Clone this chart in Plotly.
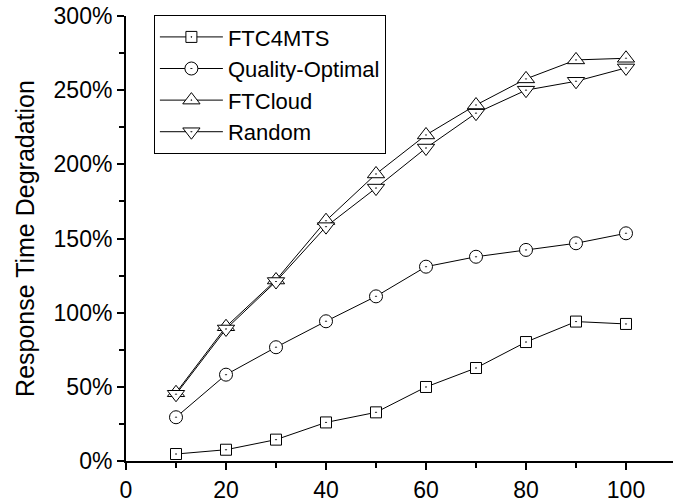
import plotly.graph_objects as go

# Data
x_vals = [10, 20, 30, 40, 50, 60, 70, 80, 90, 100]
ftc4mts = [4.7, 7.6, 14.4, 26.0, 32.8, 49.9, 62.7, 80.2, 94.0, 92.4]
quality_optimal = [29.5, 58.2, 76.7, 94.2, 111.0, 131.0, 137.7, 142.3, 146.8, 153.5]
ftcloud = [46.0, 90.5, 122.0, 162.0, 193.5, 219.8, 240.0, 257.6, 270.4, 271.5]
random_sel = [45.0, 89.0, 121.0, 158.0, 184.0, 211.0, 234.5, 250.0, 256.0, 265.0]

y_ticks = [0, 50, 100, 150, 200, 250, 300]
y_tick_labels = ["0%", "50%", "100%", "150%", "200%", "250%", "300%"]

series = [
    ("FTC4MTS", ftc4mts, "square-dot", 11),
    ("Quality-Optimal", quality_optimal, "circle-dot", 13),
    ("FTCloud", ftcloud, "triangle-up-dot", 15),
    ("Random", random_sel, "triangle-down-dot", 15),
]

fig = go.Figure()

for name, vals, symbol, size in series:
    fig.add_trace(go.Scatter(
        x=x_vals,
        y=vals,
        mode="lines+markers",
        name=name,
        line=dict(color="black", width=1),
        marker=dict(symbol=symbol, size=size, color="white",
                    line=dict(color="black", width=1)),
    ))

fig.update_layout(
    width=673,
    height=502,
    margin=dict(l=126, r=0, t=16, b=41),
    paper_bgcolor="white",
    plot_bgcolor="white",
    font=dict(family="Liberation Sans, Arial, sans-serif", size=23, color="black"),
    showlegend=True,
    legend=dict(
        x=0.051, y=1.002, xanchor="left", yanchor="top",
        bordercolor="black", borderwidth=1, bgcolor="white",
        font=dict(size=22), itemwidth=63, tracegroupgap=0,
    ),
)

fig.update_xaxes(
    range=[0, 109.4],
    tickvals=[0, 20, 40, 60, 80, 100],
    ticks="outside", ticklen=7, tickwidth=1.5, tickcolor="black",
    minor=dict(tickvals=[10, 30, 50, 70, 90], ticks="outside", ticklen=5, tickcolor="black"),
    showline=True, linecolor="black", linewidth=2,
    showgrid=False, zeroline=False, automargin=False,
)

fig.update_yaxes(
    range=[0, 300],
    tickvals=y_ticks,
    ticktext=y_tick_labels,
    ticks="outside", ticklen=7, tickwidth=1.5, tickcolor="black",
    minor=dict(tickvals=[25, 75, 125, 175, 225, 275], ticks="outside", ticklen=5, tickcolor="black"),
    showline=True, linecolor="black", linewidth=2,
    showgrid=False, zeroline=False, automargin=False,
    title=dict(text="Response Time Degradation", standoff=12, font=dict(size=25)),
)

# remove the default page margin so the figure sits at the window's corner
fig.write_html("out.html", config={"displayModeBar": False},
               post_script="document.body.style.margin='0';")
